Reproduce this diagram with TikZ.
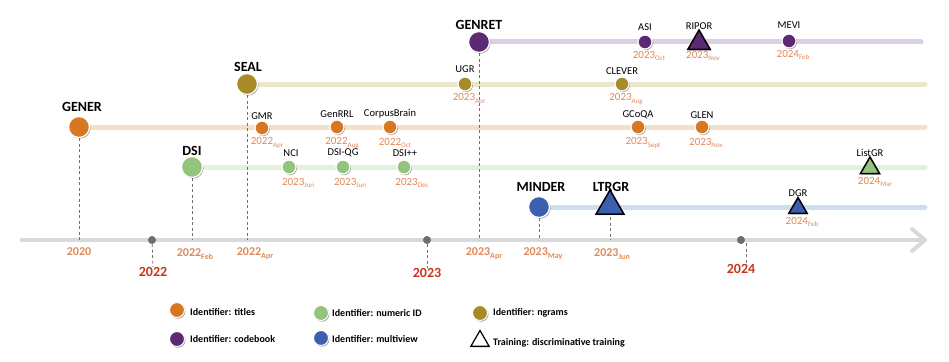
\documentclass[tikz,border=0pt]{standalone}
\usepackage{fontspec}
\setmainfont{Carlito}
\usetikzlibrary{shapes.geometric,shadows}
\definecolor{cTit}{HTML}{D87722}
\definecolor{cCode}{HTML}{5B2A72}
\definecolor{cNgr}{HTML}{A68B26}
\definecolor{cNum}{HTML}{93C47D}
\definecolor{cMul}{HTML}{3E5FB0}
\definecolor{lTit}{HTML}{F4E0C6}
\definecolor{lCode}{HTML}{DCCFE4}
\definecolor{lNgr}{HTML}{EAE8CC}
\definecolor{lNum}{HTML}{E4F0DE}
\definecolor{lMul}{HTML}{D0DDEF}
\definecolor{dateC}{HTML}{E0895A}
\definecolor{yearC}{HTML}{C8361A}
\definecolor{axisC}{HTML}{D9D9D9}
\definecolor{dotC}{HTML}{6E6E6E}
\definecolor{dashC}{HTML}{707070}
\newcommand\msub[1]{\raisebox{-0.45ex}{\fontsize{7}{7}\selectfont #1}}
\newcommand\asub[1]{\raisebox{-0.45ex}{\fontsize{8}{8}\selectfont #1}}
\tikzset{
  shad/.style={drop shadow={shadow xshift=1pt,shadow yshift=-1.2pt,opacity=0.35,fill=black}},
  bigc/.style={circle, minimum size=21pt, inner sep=0pt, draw=white, line width=1.3pt, shad},
  smc/.style={circle, minimum size=14pt, inner sep=0pt, draw=white, line width=1.2pt, shad},
  legc/.style={circle, minimum size=15pt, inner sep=0pt, draw=white, line width=1pt, shad},
  tri/.style={regular polygon, regular polygon sides=3, inner sep=0pt, draw=black, line width=1.5pt, shad},
  lane/.style={line width=5pt, line cap=round},
  vdash/.style={draw=dashC, line width=0.8pt, dash pattern=on 3pt off 2.5pt},
  mainlbl/.style={font=\bfseries\fontsize{14}{14}\selectfont, inner sep=0pt},
  lbl/.style={font=\fontsize{10.5}{10.5}\selectfont, inner sep=0pt},
  dlbl/.style={font=\fontsize{11}{11}\selectfont, text=dateC, inner sep=0pt},
  axlbl/.style={font=\bfseries\fontsize{12}{12}\selectfont, text=dateC, inner sep=0pt},
  yearlbl/.style={font=\bfseries\fontsize{14}{14}\selectfont, text=yearC, inner sep=0pt},
  yeardot/.style={circle, fill=dotC, minimum size=8pt, inner sep=0pt},
  legtxt/.style={font=\bfseries\fontsize{10}{10}\selectfont, anchor=west, inner sep=0pt},
}
\begin{document}
\begin{tikzpicture}[x=1pt,y=-1pt]
\useasboundingbox (0,0) rectangle (949,361);
% lane end coordinates
\coordinate (eCode) at (921,42);
\coordinate (eNgr) at (925,84);
\coordinate (eTit) at (925,127);
\coordinate (eNum) at (925,167);
\coordinate (eMul) at (925,207);
% main node positions
\coordinate (pGENER) at (79,127);
\coordinate (pSEAL) at (247,84);
\coordinate (pDSI) at (192,167);
\coordinate (pGENRET) at (479,42);
\coordinate (pMINDER) at (539,207);
\coordinate (pLTRGR) at (610,206);
% lanes
\draw[lane,draw=lCode] (pGENRET) -- (eCode);
\draw[lane,draw=lNgr] (pSEAL) -- (eNgr);
\draw[lane,draw=lTit] (pGENER) -- (eTit);
\draw[lane,draw=lNum] (pDSI) -- (eNum);
\draw[lane,draw=lMul] (pMINDER) -- (eMul);
% axis
\coordinate (axS) at (22,240);
\coordinate (axE) at (925,240);
\coordinate (arA) at (912,229);
\coordinate (arB) at (912,251);
\draw[line width=4.5pt, draw=axisC, line cap=round] (axS) -- (axE);
\draw[line width=4pt, draw=axisC, line cap=round, line join=round] (arA) -- (axE) -- (arB);
% axis ticks for main nodes
\coordinate (tGENER) at (79,240);
\coordinate (tSEAL) at (247,240);
\coordinate (tDSI) at (192,240);
\coordinate (tGENRET) at (479,240);
\coordinate (tMINDER) at (539,240);
\coordinate (tLTRGR) at (610,240);
\draw[vdash] (pGENER) -- (tGENER);
\draw[vdash] (pSEAL) -- (tSEAL);
\draw[vdash] (pDSI) -- (tDSI);
\draw[vdash] (pGENRET) -- (tGENRET);
\draw[vdash] (pMINDER) -- (tMINDER);
\draw[vdash] (pLTRGR) -- (tLTRGR);
% year markers
\node[yeardot] (y22) at (152,240) {};
\node[yeardot] (y23) at (427,240) {};
\node[yeardot] (y24) at (741,240) {};
\node[yearlbl] (Y22) at (153,272) {2022};
\node[yearlbl] (Y23) at (427,273) {2023};
\node[yearlbl] (Y24) at (741,269) {2024};
\draw[vdash] (y22) -- (Y22.north);
\draw[vdash] (y23) -- (Y23.north);
\coordinate (y24d) at (746,243);
\draw[vdash] (y24d) -- (Y24.north -| y24d);
% main nodes
\node[bigc, fill=cTit] (GENER) at (pGENER) {};
\node[bigc, fill=cNgr] (SEAL) at (pSEAL) {};
\node[bigc, fill=cNum] (DSI) at (pDSI) {};
\node[bigc, fill=cCode] (GENRET) at (pGENRET) {};
\node[bigc, fill=cMul] (MINDER) at (pMINDER) {};
\node[tri, fill=cMul, minimum size=32pt] (LTRGR) at (pLTRGR) {};
\node[mainlbl] at (82,107) {GENER};
\node[mainlbl] at (248,67) {SEAL};
\node[mainlbl] at (192,151) {DSI};
\node[mainlbl] at (479,25) {GENRET};
\node[mainlbl] at (541,187) {MINDER};
\node[mainlbl] at (611,187) {LTRGR};
\node[axlbl] at (79,252) {2020};
\node[axlbl] at (195,254) {2022\asub{Feb}};
\node[axlbl] at (255,254) {2022\asub{Apr}};
\node[axlbl] at (484,254) {2023\asub{Apr}};
\node[axlbl] at (543,254) {2023\asub{May}};
\node[axlbl] at (612,254) {2023\asub{Jun}};
% small nodes: titles lane
\node[smc, fill=cTit] (GMR) at (262,128) {};
\node[lbl] at (262,116) {GMR};
\node[dlbl] at (267,143) {2022\msub{Apr}};
\node[smc, fill=cTit] (GenRRL) at (337,127) {};
\node[lbl] at (337,114) {GenRRL};
\node[dlbl] at (342,143) {2022\msub{Aug}};
\node[smc, fill=cTit] (CorpusBrain) at (390,127) {};
\node[lbl] at (390,114) {CorpusBrain};
\node[dlbl] at (395,143) {2022\msub{Oct}};
\node[smc, fill=cTit] (GCoQA) at (638,127) {};
\node[lbl] at (638,115) {GCoQA};
\node[dlbl] at (643,143) {2023\msub{Sept}};
\node[smc, fill=cTit] (GLEN) at (702,127) {};
\node[lbl] at (702,115) {GLEN};
\node[dlbl] at (706,143) {2023\msub{Nov}};
% numeric lane
\node[smc, fill=cNum] (NCI) at (289,167) {};
\node[lbl] at (291,153) {NCI};
\node[dlbl] at (298,183) {2023\msub{Jun}};
\node[smc, fill=cNum] (DSIQG) at (343,167) {};
\node[lbl] at (343,153) {DSI-QG};
\node[dlbl] at (350,183) {2023\msub{Jun}};
\node[smc, fill=cNum] (DSIpp) at (404,167) {};
\node[lbl] at (405,153) {DSI++};
\node[dlbl] at (412,183) {2023\msub{Dec}};
\node[tri, fill=cNum, minimum size=22pt] (ListGR) at (870,168) {};
\node[lbl] at (870,153) {ListGR};
\node[dlbl] at (875,182) {2024\msub{Mar}};
% ngrams lane
\node[smc, fill=cNgr] (UGR) at (465,84) {};
\node[lbl] at (465,69) {UGR};
\node[dlbl] at (469,99) {2023\msub{Apr}};
\node[smc, fill=cNgr] (CLEVER) at (622,84) {};
\node[lbl] at (622,71) {CLEVER};
\node[dlbl] at (626,99) {2023\msub{Aug}};
% codebook lane
\node[smc, fill=cCode] (ASI) at (645,42) {};
\node[lbl] at (645,27) {ASI};
\node[dlbl] at (649,56) {2023\msub{Oct}};
\node[tri, fill=cCode, minimum size=26pt] (RIPOR) at (699,43) {};
\node[lbl] at (699,26) {RIPOR};
\node[dlbl] at (703,56) {2023\msub{Nov}};
\node[smc, fill=cCode] (MEVI) at (789,41) {};
\node[lbl] at (789,25) {MEVI};
\node[dlbl] at (793,55) {2024\msub{Feb}};
% multiview lane
\node[tri, fill=cMul, minimum size=21pt] (DGR) at (798,208) {};
\node[lbl] at (798,193) {DGR};
\node[dlbl] at (802,222) {2024\msub{Feb}};
% legend
\node[legc, fill=cTit] (L1) at (177,310) {};
\node[legtxt] at (190,312) {Identifier: titles};
\node[legc, fill=cCode] (L2) at (177,339) {};
\node[legtxt] at (190,339) {Identifier: codebook};
\node[legc, fill=cNum] (L3) at (321,313) {};
\node[legtxt] at (332,313) {Identifier: numeric ID};
\node[legc, fill=cMul] (L4) at (321,338) {};
\node[legtxt] at (332,339) {Identifier: multiview};
\node[legc, fill=cNgr] (L5) at (480,313) {};
\node[legtxt] at (493,313) {Identifier: ngrams};
\node[tri, fill=white, minimum size=21pt, line width=1.2pt] (L6) at (480,341) {};
\node[legtxt] at (493,343) {Training: discriminative training};
\end{tikzpicture}
\end{document}
